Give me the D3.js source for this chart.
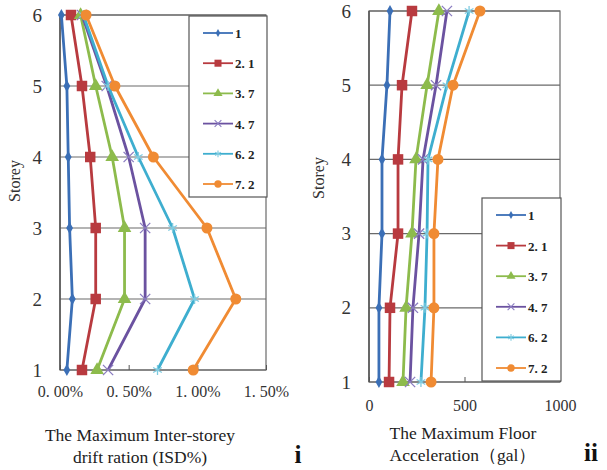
<!DOCTYPE html>
<html>
<head>
<meta charset="utf-8">
<script src="https://cdn.jsdelivr.net/npm/d3@7"></script>
<style>
  body { margin: 0; background: #fff; }
  svg text { font-family: "Liberation Serif", "DejaVu Serif", serif; }
</style>
</head>
<body>
<div id="chart"></div>
<script>
// data
var storeys = [1, 2, 3, 4, 5, 6];
var seriesNames = ["1", "2.1", "3.7", "4.7", "6.2", "7.2"];
var colors = ["#3b6fb6", "#b83a3f", "#8dbb4c", "#6b52a0", "#3eaecf", "#f08b33"];

// left panel: max inter-storey drift ratio (%), storey 1..6
var isd1  = [0.05, 0.09, 0.07, 0.06, 0.05, 0.01];
var isd21 = [0.16, 0.26, 0.26, 0.22, 0.16, 0.08];
var isd37 = [0.27, 0.47, 0.47, 0.38, 0.26, 0.15];
var isd47 = [0.35, 0.62, 0.62, 0.50, 0.34, 0.16];
var isd62 = [0.71, 0.98, 0.82, 0.57, 0.35, 0.17];
var isd72 = [0.97, 1.28, 1.07, 0.68, 0.40, 0.19];
var isdTicks = [0, 0.5, 1.0, 1.5];

// right panel: max floor acceleration (gal), storey 1..6
var acc1  = [52, 52, 68, 68, 94, 110];
var acc21 = [105, 110, 152, 152, 173, 225];
var acc37 = [178, 194, 225, 246, 304, 366];
var acc47 = [215, 230, 262, 283, 351, 408];
var acc62 = [272, 293, 304, 309, 408, 524];
var acc72 = [325, 340, 340, 361, 440, 581];
var accTicks = [0, 500, 1000];

var symbols = [d3.symbolDiamond, d3.symbolSquare, d3.symbolTriangle,
               d3.symbolTimes || d3.symbolCross, d3.symbolAsterisk || d3.symbolCross, d3.symbolCircle];
var symSize = [40, 110, 80, 70, 70, 95];
var strokeSym = [false, false, false, true, true, false];
var serif = "Liberation Serif, DejaVu Serif, serif";

var svg = d3.select("#chart").append("svg")
  .attr("width", 607).attr("height", 470);

function drawPanel(opt) {
  var x = d3.scaleLinear().domain(opt.xDomain).range([opt.x0, opt.x1]);
  var y = d3.scaleLinear().domain([1, 6]).range([opt.yBottom, opt.yTop]);
  var g = svg.append("g");

  // horizontal gridlines
  g.selectAll(".grid").data(storeys).enter().append("line")
    .attr("x1", opt.x0).attr("x2", opt.x1)
    .attr("y1", function(d) { return y(d); })
    .attr("y2", function(d) { return y(d); })
    .attr("stroke", "#6a6a6a").attr("stroke-width", 1.2);

  // plot border
  g.append("rect")
    .attr("x", opt.x0).attr("y", opt.yTop)
    .attr("width", opt.x1 - opt.x0).attr("height", opt.yBottom - opt.yTop)
    .attr("fill", "none").attr("stroke", "#6a6a6a").attr("stroke-width", 1.2);
  g.append("line")
    .attr("x1", opt.x0).attr("x2", opt.x0).attr("y1", opt.yTop).attr("y2", opt.yBottom)
    .attr("stroke", "#555").attr("stroke-width", 1.5);

  // x axis (ticks point inward)
  var xAxis = g.append("g")
    .attr("transform", "translate(0," + opt.yBottom + ")")
    .call(d3.axisBottom(x).tickValues(opt.ticks).tickSizeInner(-5).tickSizeOuter(0)
      .tickPadding(opt.xPad).tickFormat(opt.fmt));
  xAxis.select(".domain").remove();
  xAxis.selectAll("line").attr("stroke", "#555");
  xAxis.selectAll("text").attr("font-size", 16).attr("fill", "#333")
    .attr("font-family", serif);

  // y axis labels
  var yAxis = g.append("g")
    .attr("transform", "translate(" + opt.x0 + ",0)")
    .call(d3.axisLeft(y).tickValues(storeys).tickSize(0).tickPadding(opt.yPad).tickFormat(d3.format("d")));
  yAxis.select(".domain").remove();
  yAxis.selectAll("text").attr("font-size", 19).attr("fill", "#333")
    .attr("font-family", serif);

  g.append("text")
    .attr("transform", "translate(" + opt.storeyX + "," + opt.storeyY + ") rotate(-90)")
    .attr("text-anchor", "middle").attr("font-size", 16).attr("fill", "#333")
    .attr("font-family", serif)
    .text("Storey");

  // series lines
  var line = d3.line()
    .x(function(d) { return x(d.v); })
    .y(function(d) { return y(d.s); });

  opt.data.forEach(function(vals, i) {
    var pts = vals.map(function(v, k) { return {v: v, s: storeys[k]}; });
    g.append("path").datum(pts)
      .attr("d", line).attr("fill", "none")
      .attr("stroke", colors[i]).attr("stroke-width", 2.8)
      .attr("stroke-linejoin", "round");
    g.selectAll(".m" + i).data(pts).enter().append("path")
      .attr("transform", function(d) { return "translate(" + x(d.v) + "," + y(d.s) + ")"; })
      .attr("d", d3.symbol().type(symbols[i]).size(symSize[i]))
      .attr("fill", strokeSym[i] ? "none" : colors[i])
      .attr("stroke", strokeSym[i] ? (i === 3 ? "#8a7cc0" : "#7fcbe0") : "none")
      .attr("stroke-width", 1.3);
  });

  // legend
  var lg = g.append("g");
  lg.append("rect")
    .attr("x", opt.lx).attr("y", opt.ly)
    .attr("width", opt.lw).attr("height", opt.lh)
    .attr("fill", "#fff").attr("stroke", "#555").attr("stroke-width", 1.2);
  seriesNames.forEach(function(name, i) {
    var yy = opt.ly + opt.lFirst + i * opt.lStep;
    lg.append("line")
      .attr("x1", opt.lx + 14).attr("x2", opt.lx + 44)
      .attr("y1", yy).attr("y2", yy)
      .attr("stroke", colors[i]).attr("stroke-width", 1.8);
    lg.append("path")
      .attr("transform", "translate(" + (opt.lx + 29) + "," + yy + ")")
      .attr("d", d3.symbol().type(symbols[i]).size(symSize[i] * 0.45))
      .attr("fill", strokeSym[i] ? "none" : colors[i])
      .attr("stroke", strokeSym[i] ? (i === 3 ? "#8a7cc0" : "#7fcbe0") : "none")
      .attr("stroke-width", 1.1);
    lg.append("text")
      .attr("x", opt.lx + 46).attr("y", yy + 5)
      .attr("font-size", 13).attr("fill", "#222").attr("font-weight", "bold")
      .attr("font-family", serif)
      .text(name.replace(".", ". "));
  });

  // axis title
  opt.title.forEach(function(t, k) {
    g.append("text")
      .attr("x", opt.titleX).attr("y", opt.titleY + k * 22)
      .attr("text-anchor", "middle").attr("font-size", 17.5).attr("fill", "#222")
      .attr("font-family", serif)
      .text(t);
  });
  g.append("text")
    .attr("x", opt.tagX).attr("y", opt.titleY + 22)
    .attr("text-anchor", "middle").attr("font-size", 25).attr("font-weight", "bold")
    .attr("font-family", serif)
    .attr("fill", "#111").text(opt.tag);
}

drawPanel({
  xDomain: [0, 1.5], x0: 60, x1: 266, yTop: 15, yBottom: 370,
  ticks: isdTicks, fmt: function(d) { return d3.format(".2f")(d).replace(".", ". ") + "%"; },
  xPad: 16, yPad: 18, storeyX: 20, storeyY: 181,
  data: [isd1, isd21, isd37, isd47, isd62, isd72],
  lx: 189, ly: 16, lw: 78, lh: 181, lFirst: 17, lStep: 30.2,
  title: ["The Maximum Inter-storey", "drift ration (ISD%)"], titleX: 140, titleY: 441,
  tag: "i", tagX: 298
});

drawPanel({
  xDomain: [0, 1000], x0: 369, x1: 560, yTop: 11, yBottom: 382,
  ticks: accTicks, fmt: d3.format("d"), xPad: 18,
  yPad: 18, storeyX: 324, storeyY: 178,
  data: [acc1, acc21, acc37, acc47, acc62, acc72],
  lx: 482, ly: 198, lw: 79, lh: 183, lFirst: 17, lStep: 30.6,
  title: ["The Maximum Floor", "Acceleration\uFF08gal\uFF09"], titleX: 463, titleY: 439,
  tag: "ii", tagX: 591
});
</script>
</body>
</html>
